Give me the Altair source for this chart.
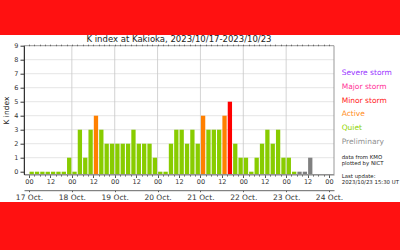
import json
import altair as alt
import pandas as pd

W, H = 310, 128.8
FONT = "DejaVu Sans"

title_text = "K index at Kakioka, 2023/10/17-2023/10/23"
day_labels = ["17 Oct.", "18 Oct.", "19 Oct.", "20 Oct.", "21 Oct.", "22 Oct.", "23 Oct.", "24 Oct."]
hour_labels = ["00", "12"]

# K index per 3-hour interval, one list per day
k_17 = [0, 0, 0, 0, 0, 0, 0, 1]
k_18 = [0, 3, 1, 3, 4, 3, 2, 2]
k_19 = [2, 2, 2, 3, 2, 2, 2, 1]
k_20 = [0, 0, 2, 3, 3, 2, 3, 2]
k_21 = [4, 3, 3, 3, 4, 5, 2, 1]
k_22 = [1, 0, 1, 2, 3, 2, 3, 1]
k_23 = [1, 0, 0, 0, 1]
prelim_23 = [False, False, True, True, True]

levels = ["Severe storm", "Major storm", "Minor storm", "Active", "Quiet", "Preliminary"]
text_colors = ["#9933ff", "#ff3399", "#ff2222", "#ff8c1a", "#8fd400", "#909090"]
bar_colors = ["#9900ff", "#ff0099", "#ff0000", "#ff8000", "#88cc00", "#808080"]
info_lines = ["data from KMO", "plotted by NICT", "Last update:", "2023/10/23 15:30 UT"]


def category(k, prelim):
    if prelim:
        return "Preliminary"
    if k >= 7:
        return "Severe storm"
    if k == 6:
        return "Major storm"
    if k == 5:
        return "Minor storm"
    if k == 4:
        return "Active"
    return "Quiet"


days = [k_17, k_18, k_19, k_20, k_21, k_22, k_23]
rows = []
for d, arr in enumerate(days):
    for j, k in enumerate(arr):
        pre = prelim_23[j] if d == 6 else False
        rows.append({"mid": d * 24 + j * 3 + 1.5, "k": k, "cat": category(k, pre)})
df = pd.DataFrame(rows)

xs = alt.Scale(domain=[0, 168], nice=False, zero=False)
ys = alt.Scale(domain=[-0.2, 9], nice=False, zero=False)

hour_expr = ("datum.value % 12 === 0 ? (datum.value % 24 === 0 ? '" + hour_labels[0]
             + "' : '" + hour_labels[1] + "') : ''")

hour_axis = alt.Axis(
    orient="bottom",
    values=list(range(0, 169, 3)),
    labelExpr=hour_expr,
    tickSize={"condition": {"test": "datum.value % 12 === 0", "value": 3}, "value": 1.5},
    labelFontSize=6.5, labelFont=FONT, labelColor="#333", labelPadding=1,
    labelFlush=False, labelOverlap=False, tickColor="#555", domainColor="#888",
    grid=False, title=None, zindex=1,
)
y_axis = alt.Axis(
    orient="left",
    values=list(range(10)), title="K index", titleFontSize=7.5, titleFont=FONT,
    titleFontWeight="normal", titleColor="#222", titlePadding=3,
    labelFontSize=6.5, labelFont=FONT, labelColor="#333", labelPadding=2,
    tickSize=4, tickColor="#333", domainColor="#333", grid=False, zindex=1,
)
day_axis = alt.Axis(
    orient="bottom", offset=15.7, values=list(range(0, 169, 24)),
    labelExpr=json.dumps(day_labels) + "[datum.value / 24]",
    tickSize=1.5, labelFontSize=7.5, labelFont=FONT, labelColor="#333", labelPadding=1.5,
    labelFlush=False, labelOverlap=False, tickColor="#555", domainColor="#666",
    grid=False, title=None, zindex=1,
)
top_axis = alt.Axis(
    orient="top", values=list(range(0, 169, 3)), labels=False, tickSize=1.5,
    tickColor="#666", domain=False, grid=False, title=None, zindex=1,
)

one = pd.DataFrame({"a": [0]})

white = alt.Chart(one).mark_rect(color="white").encode(
    x=alt.value(-24), x2=alt.value(376), y=alt.value(-10.7), y2=alt.value(156.4)
)

hgrid = alt.Chart(pd.DataFrame({"v": list(range(1, 9))})).mark_rule(color="#dddddd", strokeWidth=0.8).encode(
    y=alt.Y("v:Q", scale=ys, axis=y_axis)
)
vgrid = alt.Chart(pd.DataFrame({"d": list(range(24, 168, 24))})).mark_rule(color="#c8c8c8", strokeWidth=0.8).encode(
    x=alt.X("d:Q", scale=xs, axis=day_axis)
)

bars = alt.Chart(df).mark_bar(size=4.3).encode(
    x=alt.X("mid:Q", scale=xs, axis=hour_axis),
    y=alt.Y("k:Q", scale=ys, axis=y_axis),
    y2=alt.datum(-0.2),
    color=alt.Color("cat:N", scale=alt.Scale(domain=levels, range=bar_colors), legend=None),
)

frame = alt.Chart(one).mark_rect(fillOpacity=0, stroke="#999999", strokeWidth=1).encode(
    x=alt.value(0), x2=alt.value(W), y=alt.value(0), y2=alt.value(H)
)

top = alt.Chart(pd.DataFrame({"d": [0, 168]})).mark_rule(opacity=0).encode(
    x=alt.X("d:Q", scale=xs, axis=top_axis)
)

layers = [white, hgrid, vgrid, bars, frame, top]

for i, (lab, col) in enumerate(zip(levels, text_colors)):
    layers.append(
        alt.Chart(pd.DataFrame({"t": [lab]})).mark_text(
            align="left", baseline="middle", font=FONT, fontSize=7.5, color=col
        ).encode(text="t:N", x=alt.value(317.7), y=alt.value(27.6 + i * 13.7))
    )

info_y = [111.6, 117.6, 130.3, 136.0]
for lab, yy in zip(info_lines, info_y):
    layers.append(
        alt.Chart(pd.DataFrame({"t": [lab]})).mark_text(
            align="left", baseline="middle", font=FONT, fontSize=5.4, color="#222"
        ).encode(text="t:N", x=alt.value(317.7), y=alt.value(yy))
    )

chart = alt.layer(*layers).resolve_axis(x="independent").properties(
    width=W, height=H,
    autosize="none",
    padding={"left": 24, "top": 45.7, "right": 66, "bottom": 75.5},
    background="#ff1111",
    title=alt.TitleParams(
        text=title_text, fontSize=8.5, font=FONT, fontWeight="normal", color="#222",
        anchor="middle", frame="group", offset=2, dy=10, zindex=1,
    ),
).configure_view(stroke=None)

chart.save("out.html", embed_options={"renderer": "svg", "actions": False})
